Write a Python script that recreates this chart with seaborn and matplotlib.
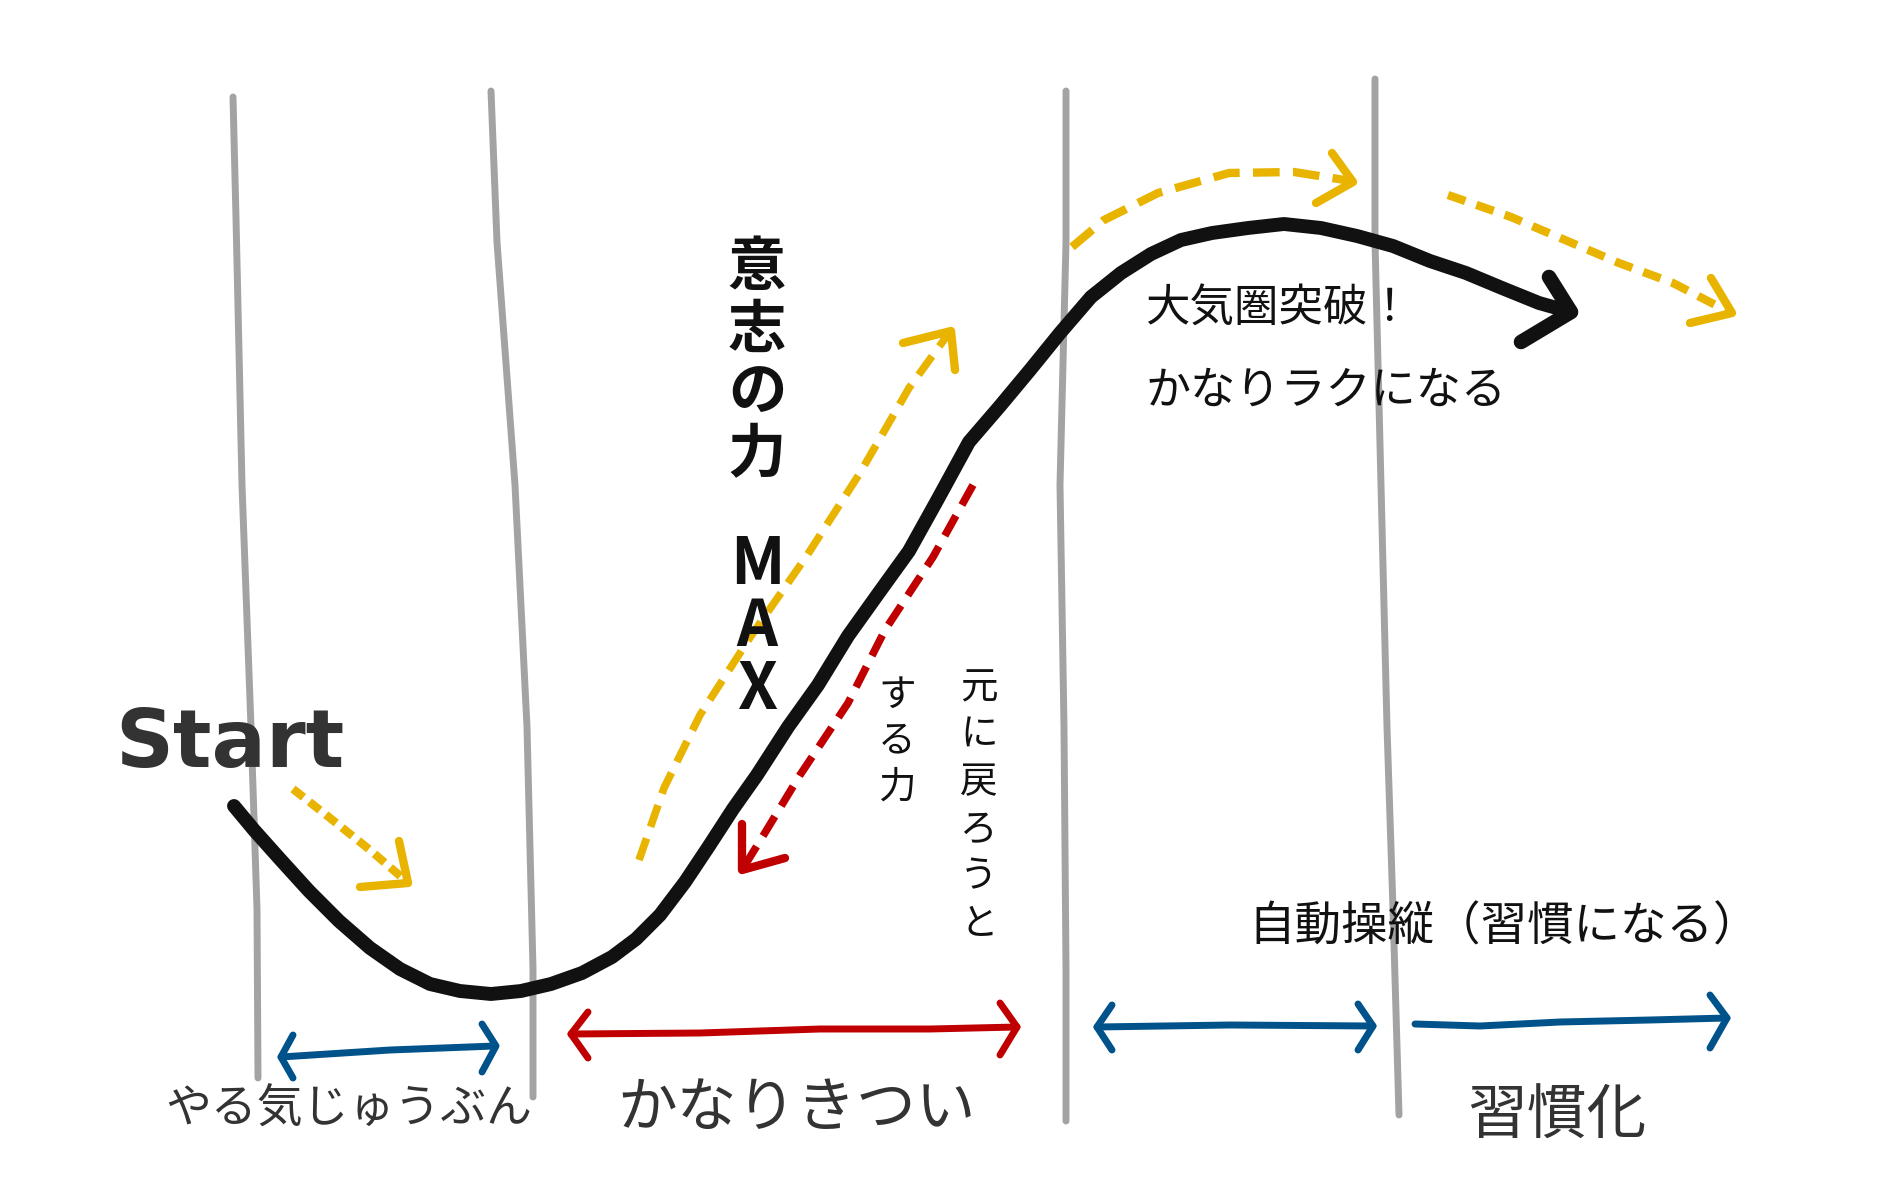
import matplotlib
matplotlib.use("Agg")
import matplotlib.pyplot as plt
import seaborn as sns

# canvas is measured in pixels of the 1900x1200 drawing, y grows downward

# gray dividers
guide1_x = [233, 236, 242, 251, 257, 258]
guide1_y = [97, 218, 485, 727, 909, 1078]
guide2_x = [491, 497, 515, 527, 533, 533]
guide2_y = [91, 242, 485, 727, 969, 1097]
guide3_x = [1066, 1066, 1060, 1064, 1066, 1066]
guide3_y = [91, 242, 485, 727, 969, 1121]
guide4_x = [1375, 1375, 1381, 1387, 1393, 1399]
guide4_y = [79, 242, 485, 727, 909, 1115]

# main black curve + head
curve_x = [234, 254, 279, 309, 339, 370, 400, 430, 460, 491, 521, 551, 582,
           612, 636, 660, 685, 709, 733, 757, 788, 818, 848, 878, 909, 939,
           969, 1000, 1030, 1060, 1091, 1121, 1151, 1181, 1212, 1248, 1284,
           1321, 1357, 1393, 1430, 1466, 1502, 1539, 1571]
curve_y = [806, 830, 858, 891, 921, 948, 969, 984, 991, 994, 991, 984, 973,
           957, 939, 915, 882, 846, 809, 775, 727, 685, 636, 594, 551, 497,
           442, 406, 370, 333, 297, 273, 254, 240, 233, 228, 224,
           228, 236, 246, 261, 273, 288, 303, 312]
curve_head_x = [1549, 1571, 1521]
curve_head_y = [277, 312, 342]

# yellow dashed arrows
y1_x = [293, 330, 370, 406]
y1_y = [789, 818, 850, 881]
y1_head_x = [399, 408, 360]
y1_head_y = [841, 883, 887]

y2_x = [639, 664, 700, 751, 806, 860, 909, 949]
y2_y = [860, 788, 715, 636, 557, 473, 388, 333]
y2_head_x = [903, 951, 955]
y2_head_y = [343, 331, 370]

y3_x = [1072, 1104, 1158, 1229, 1294, 1351]
y3_y = [247, 220, 193, 173, 172, 181]
y3_head_x = [1332, 1353, 1316]
y3_head_y = [153, 182, 203]

y4_x = [1448, 1511, 1565, 1619, 1673, 1731]
y4_y = [195, 217, 240, 263, 283, 313]
y4_head_x = [1711, 1732, 1690]
y4_head_y = [278, 313, 323]

# red dashed arrow (pull back)
r_x = [973, 933, 885, 848, 800, 763, 742]
r_y = [485, 557, 630, 703, 775, 836, 870]
r_head_x = [742, 742, 785]
r_head_y = [824, 870, 858]

# bottom span arrows
b1_x = [281, 390, 495]
b1_y = [1057, 1050, 1046]
b1_lhead_x = [293, 281, 293]
b1_lhead_y = [1035, 1057, 1078]
b1_rhead_x = [482, 496, 482]
b1_rhead_y = [1024, 1046, 1072]

red_x = [571, 700, 820, 930, 1017]
red_y = [1034, 1033, 1029, 1029, 1027]
red_lhead_x = [588, 571, 588]
red_lhead_y = [1012, 1034, 1058]
red_rhead_x = [1000, 1017, 1000]
red_rhead_y = [1003, 1027, 1055]

b2_x = [1097, 1230, 1373]
b2_y = [1027, 1025, 1026]
b2_lhead_x = [1112, 1097, 1112]
b2_lhead_y = [1005, 1027, 1050]
b2_rhead_x = [1358, 1373, 1358]
b2_rhead_y = [1004, 1026, 1050]

b3_x = [1415, 1480, 1560, 1650, 1727]
b3_y = [1024, 1026, 1022, 1020, 1018]
b3_head_x = [1710, 1727, 1710]
b3_head_y = [995, 1018, 1048]

GRAY = "#a3a3a3"
YELLOW = "#e8b400"
RED = "#c00000"
BLUE = "#00528a"
INK = "#111111"
SOFT = "#333333"


def stroke(ax, xs, ys, color, lw, dash=None):
    kw = dict(color=color, linewidth=lw, solid_capstyle="round",
              solid_joinstyle="round", dash_capstyle="butt")
    if dash is not None:
        kw["linestyle"] = (0, dash)
    sns.lineplot(x=xs, y=ys, sort=False, estimator=None, ax=ax, legend=False, **kw)


sns.set_theme(style="white")
plt.rcParams["font.family"] = ["Noto Sans CJK JP", "DejaVu Sans"]

fig = plt.figure(figsize=(19, 12), dpi=100)
ax = fig.add_axes([0, 0, 1, 1])

for gx, gy in [(guide1_x, guide1_y), (guide2_x, guide2_y),
               (guide3_x, guide3_y), (guide4_x, guide4_y)]:
    stroke(ax, gx, gy, GRAY, 5)

stroke(ax, y1_x, y1_y, YELLOW, 6, (1.6, 0.9))
stroke(ax, y1_head_x, y1_head_y, YELLOW, 6)
stroke(ax, y2_x, y2_y, YELLOW, 5.5, (3.0, 1.6))
stroke(ax, y2_head_x, y2_head_y, YELLOW, 6)
stroke(ax, y3_x, y3_y, YELLOW, 6, (3.2, 1.6))
stroke(ax, y3_head_x, y3_head_y, YELLOW, 6)
stroke(ax, y4_x, y4_y, YELLOW, 6, (2.2, 1.4))
stroke(ax, y4_head_x, y4_head_y, YELLOW, 6)

stroke(ax, r_x, r_y, RED, 5.5, (3.0, 1.6))
stroke(ax, r_head_x, r_head_y, RED, 6)

stroke(ax, curve_x, curve_y, INK, 10)
stroke(ax, curve_head_x, curve_head_y, INK, 10.5)

for sx, sy in [(b1_x, b1_y), (b1_lhead_x, b1_lhead_y), (b1_rhead_x, b1_rhead_y),
               (b2_x, b2_y), (b2_lhead_x, b2_lhead_y), (b2_rhead_x, b2_rhead_y),
               (b3_x, b3_y), (b3_head_x, b3_head_y)]:
    stroke(ax, sx, sy, BLUE, 5)
for sx, sy in [(red_x, red_y), (red_lhead_x, red_lhead_y), (red_rhead_x, red_rhead_y)]:
    stroke(ax, sx, sy, RED, 5)

# labels
ax.text(230, 745, "Start", ha="center", va="center", fontsize=58,
        fontweight="bold", color=SOFT, family=["DejaVu Sans"])
ax.text(757, 238, "意\n志\nの\n力", ha="center", va="top", fontsize=42,
        fontweight="bold", color=INK, linespacing=1.05)
ax.text(757, 532, "M\nA\nX", ha="center", va="top", fontsize=46,
        fontweight="bold", color=INK, linespacing=0.95)
ax.text(897, 676, "す\nる\n力", ha="center", va="top", fontsize=27,
        color=INK, linespacing=1.22)
ax.text(979, 668, "元\nに\n戻\nろ\nう\nと", ha="center", va="top", fontsize=27,
        color=INK, linespacing=1.28)
ax.text(1145, 309, "大気圏突破！", ha="left", va="center", fontsize=32, color=INK)
ax.text(1145, 391, "かなりラクになる", ha="left", va="center", fontsize=32.5, color=INK)
ax.text(1248, 927, "自動操縦（習慣になる）", ha="left", va="center", fontsize=33.5, color=INK)
ax.text(349, 1109, "やる気じゅうぶん", ha="center", va="center", fontsize=33, color=SOFT)
ax.text(797, 1109, "かなりきつい", ha="center", va="center", fontsize=43, color=SOFT)
ax.text(1557, 1117, "習慣化", ha="center", va="center", fontsize=43, color=SOFT)

ax.set_xlim(0, 1900)
ax.set_ylim(1200, 0)
ax.set_axis_off()
fig.savefig("out.png", dpi=100, facecolor="white")
